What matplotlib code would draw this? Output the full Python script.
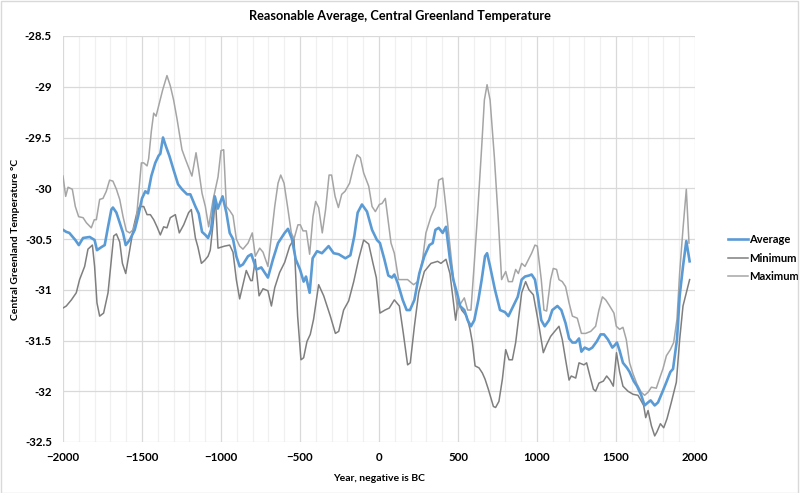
import matplotlib.pyplot as plt
import numpy as np
from matplotlib.ticker import MultipleLocator
from matplotlib.patches import Rectangle

title = 'Reasonable Average, Central Greenland Temperature'
xlabel = 'Year, negative is BC'
ylabel = 'Central Greenland Temperature °C'
font = 'Lato'

# values (year, deg C)
avg_year = [-2000, -1979, -1960, -1922, -1900, -1873, -1831, -1800, -1785, -1757, -1736, -1715, -1694, -1684,
            -1662, -1641, -1620, -1603, -1578, -1546, -1525, -1500, -1479, -1462, -1441, -1416, -1395, -1384,
            -1367, -1348, -1327, -1300, -1272, -1247, -1215, -1194, -1162, -1141, -1120, -1099, -1082, -1063,
            -1040, -1020, -990, -966, -945, -924, -903, -882, -861, -829, -808, -776, -745, -703, -671, -639,
            -597, -576, -551, -527, -500, -477, -462, -439, -420, -392, -361, -319, -287, -255, -213, -181,
            -156, -135, -108, -76, -44, -13, 6, 34, 59, 82, 97, 118, 150, 175, 196, 224, 255, 287, 319, 340,
            357, 378, 403, 424, 449, 470, 500, 513, 540, 561, 582, 603, 629, 650, 671, 684, 703, 734, 766,
            797, 819, 850, 878, 903, 924, 949, 966, 987, 1006, 1027, 1049, 1076, 1097, 1129, 1154, 1181,
            1203, 1224, 1245, 1266, 1281, 1302, 1329, 1350, 1378, 1403, 1424, 1449, 1477, 1490, 1506, 1523,
            1544, 1570, 1586, 1612, 1633, 1660, 1681, 1703, 1719, 1745, 1766, 1793, 1819, 1844, 1861, 1886,
            1903, 1924, 1945, 1966]
avg_temp = [-30.41, -30.43, -30.44, -30.51, -30.56, -30.49, -30.48, -30.51, -30.61, -30.58, -30.56, -30.38,
            -30.21, -30.19, -30.24, -30.34, -30.44, -30.56, -30.51, -30.41, -30.28, -30.1, -30.03, -30.05,
            -29.88, -29.75, -29.68, -29.66, -29.5, -29.59, -29.68, -29.82, -29.96, -30.01, -30.06, -30.06,
            -30.18, -30.25, -30.43, -30.46, -30.49, -30.41, -30.08, -30.2, -30.08, -30.24, -30.44, -30.5,
            -30.67, -30.77, -30.75, -30.67, -30.65, -30.8, -30.78, -30.88, -30.7, -30.54, -30.44, -30.4,
            -30.5, -30.7, -30.8, -30.92, -30.87, -31.03, -30.69, -30.62, -30.64, -30.57, -30.64, -30.65,
            -30.69, -30.66, -30.47, -30.24, -30.16, -30.23, -30.41, -30.51, -30.54, -30.7, -30.86, -30.88,
            -30.85, -30.93, -31.1, -31.2, -31.2, -31.1, -30.84, -30.67, -30.56, -30.54, -30.41, -30.39,
            -30.44, -30.38, -30.7, -30.9, -31.07, -31.16, -31.2, -31.3, -31.36, -31.3, -31.1, -30.9,
            -30.67, -30.64, -30.77, -31.0, -31.2, -31.22, -31.26, -31.16, -31.07, -30.9, -30.87, -30.86,
            -30.85, -30.9, -31.07, -31.3, -31.36, -31.3, -31.2, -31.16, -31.2, -31.33, -31.48, -31.52,
            -31.52, -31.48, -31.61, -31.57, -31.59, -31.57, -31.51, -31.44, -31.44, -31.49, -31.57, -31.55,
            -31.52, -31.6, -31.72, -31.77, -31.81, -31.9, -31.95, -32.04, -32.14, -32.11, -32.09, -32.14,
            -32.11, -32.01, -31.91, -31.81, -31.78, -31.49, -31.06, -30.77, -30.52, -30.72]

min_year = [-2000, -1979, -1947, -1916, -1895, -1863, -1842, -1814, -1800, -1785, -1768, -1743, -1715, -1694,
            -1679, -1662, -1641, -1624, -1603, -1578, -1553, -1532, -1515, -1489, -1468, -1447, -1426, -1405,
            -1384, -1363, -1342, -1321, -1289, -1264, -1236, -1205, -1188, -1162, -1146, -1124, -1103, -1082,
            -1068, -1046, -1036, -1019, -977, -945, -924, -903, -882, -840, -812, -802, -783, -759, -734,
            -703, -681, -660, -629, -597, -565, -538, -515, -502, -494, -477, -456, -435, -414, -382, -350,
            -308, -276, -255, -224, -192, -160, -129, -97, -65, -38, -17, 6, 38, 65, 97, 129, 154, 181, 198,
            224, 251, 287, 329, 371, 392, 424, 449, 485, 502, 523, 555, 576, 591, 608, 633, 654, 671, 692,
            724, 738, 759, 781, 802, 823, 844, 865, 882, 903, 928, 949, 977, 1013, 1040, 1061, 1086, 1112,
            1139, 1160, 1181, 1203, 1217, 1245, 1266, 1297, 1314, 1335, 1357, 1371, 1392, 1420, 1441, 1462,
            1483, 1503, 1523, 1544, 1576, 1608, 1639, 1654, 1675, 1688, 1703, 1724, 1745, 1759, 1781, 1802,
            1823, 1850, 1882, 1903, 1924, 1966]
min_temp = [-31.18, -31.16, -31.1, -31.03, -30.9, -30.77, -30.6, -30.56, -30.77, -31.13, -31.26, -31.23,
            -31.03, -30.7, -30.47, -30.45, -30.53, -30.74, -30.84, -30.61, -30.38, -30.24, -30.18, -30.18,
            -30.26, -30.26, -30.31, -30.38, -30.46, -30.38, -30.39, -30.29, -30.26, -30.44, -30.36, -30.24,
            -30.21, -30.49, -30.58, -30.74, -30.71, -30.67, -30.61, -30.29, -30.08, -30.59, -30.57, -30.56,
            -30.63, -30.9, -31.09, -30.81, -30.91, -30.91, -30.7, -31.06, -30.99, -31.01, -31.16, -30.98,
            -30.83, -30.73, -30.57, -30.5, -31.26, -31.52, -31.69, -31.67, -31.51, -31.44, -31.29, -30.95,
            -31.06, -31.26, -31.43, -31.41, -31.2, -31.11, -30.92, -30.7, -30.51, -30.55, -30.74, -30.88,
            -31.23, -31.2, -31.18, -31.1, -31.16, -31.43, -31.74, -31.72, -31.36, -31.03, -30.82, -30.74,
            -30.72, -30.74, -30.7, -30.84, -31.3, -31.1, -31.2, -31.26, -31.39, -31.52, -31.75, -31.77,
            -31.82, -31.88, -31.98, -32.15, -32.16, -32.1, -31.88, -31.59, -31.69, -31.69, -31.52, -31.3,
            -31.03, -30.92, -31.0, -31.05, -31.36, -31.62, -31.54, -31.46, -31.41, -31.36, -31.49, -31.69,
            -31.89, -31.85, -31.87, -31.72, -31.74, -31.72, -31.85, -31.98, -32.0, -31.92, -31.9, -31.85,
            -31.89, -31.95, -31.62, -31.81, -31.95, -32.0, -32.03, -32.04, -32.08, -32.14, -32.26, -32.19,
            -32.34, -32.44, -32.4, -32.32, -32.36, -32.27, -32.11, -31.91, -31.49, -31.16, -30.9]

max_year = [-2000, -1983, -1968, -1941, -1922, -1901, -1873, -1852, -1821, -1802, -1789, -1768, -1747, -1726,
            -1705, -1684, -1662, -1641, -1620, -1599, -1578, -1557, -1536, -1504, -1489, -1468, -1458, -1441,
            -1426, -1411, -1395, -1369, -1342, -1321, -1300, -1278, -1247, -1226, -1184, -1158, -1141, -1120,
            -1099, -1078, -1051, -1019, -1000, -983, -966, -945, -924, -903, -882, -861, -829, -802, -783,
            -755, -734, -703, -681, -660, -639, -622, -601, -576, -555, -538, -513, -498, -481, -460, -439,
            -418, -401, -382, -359, -338, -316, -300, -278, -257, -236, -215, -186, -160, -139, -118, -97,
            -65, -44, -23, 2, 19, 40, 76, 97, 124, 150, 181, 203, 219, 245, 276, 297, 329, 357, 378, 403,
            428, 456, 477, 498, 519, 540, 561, 582, 603, 624, 650, 667, 684, 703, 730, 755, 776, 802, 819,
            844, 865, 882, 903, 924, 966, 987, 1002, 1027, 1044, 1061, 1086, 1103, 1124, 1139, 1160, 1181,
            1203, 1224, 1255, 1281, 1308, 1340, 1371, 1392, 1414, 1435, 1456, 1487, 1502, 1523, 1544, 1565,
            1586, 1608, 1633, 1660, 1681, 1703, 1724, 1755, 1781, 1797, 1819, 1844, 1865, 1886, 1903, 1924,
            1945, 1962]
max_temp = [-29.88, -30.08, -29.99, -30.01, -30.18, -30.28, -30.29, -30.34, -30.39, -30.31, -30.31, -30.11,
            -30.1, -30.03, -29.92, -29.93, -30.01, -30.11, -30.28, -30.42, -30.44, -30.41, -30.31, -29.75,
            -29.75, -29.78, -29.71, -29.44, -29.26, -29.29, -29.19, -29.03, -28.89, -28.99, -29.13, -29.32,
            -29.62, -29.71, -29.88, -29.65, -29.82, -30.05, -30.18, -30.38, -30.12, -29.89, -29.63, -29.62,
            -30.18, -30.22, -30.27, -30.5, -30.57, -30.6, -30.54, -30.44, -30.67, -30.59, -30.63, -30.77,
            -30.47, -30.18, -29.95, -29.87, -29.95, -30.21, -30.44, -30.5, -30.36, -30.36, -30.42, -30.42,
            -30.65, -30.28, -30.13, -30.19, -30.44, -30.21, -29.87, -29.87, -30.08, -30.19, -30.06, -30.03,
            -29.95, -29.78, -29.67, -29.7, -29.85, -29.98, -30.18, -30.23, -30.16, -30.15, -30.1, -30.54,
            -30.64, -30.9, -30.9, -30.9, -30.93, -30.95, -30.92, -30.7, -30.44, -30.28, -30.18, -29.92,
            -29.9, -30.25, -30.67, -30.97, -31.2, -31.13, -31.08, -31.2, -31.2, -30.74, -30.25, -29.59,
            -29.13, -28.98, -29.13, -29.69, -30.31, -30.9, -30.82, -30.92, -30.92, -30.8, -30.84, -30.74,
            -30.77, -30.64, -30.56, -30.57, -30.9, -31.2, -31.21, -30.9, -30.79, -30.8, -30.9, -30.92,
            -30.97, -31.13, -31.26, -31.28, -31.43, -31.43, -31.41, -31.36, -31.2, -31.07, -31.1, -31.15,
            -31.23, -31.36, -31.39, -31.37, -31.49, -31.72, -31.83, -31.93, -32.01, -32.04, -32.01, -31.96,
            -31.97, -31.85, -31.78, -31.65, -31.59, -31.52, -31.29, -30.83, -30.4, -30.01, -30.54]

fig = plt.figure(figsize=(8, 4.93), dpi=100)
ax = fig.add_axes([63 / 800, 1 - 442 / 493, 632 / 800, 406 / 493])

ax.plot(avg_year, avg_temp, color='#5B9BD5', lw=1.9, label='Average', zorder=4)
ax.plot(min_year, min_temp, color='#7F7F7F', lw=1.1, label='Minimum', zorder=3)
ax.plot(max_year, max_temp, color='#A5A5A5', lw=1.1, label='Maximum', zorder=3)

ax.set_xlim(-2000, 2000)
ax.set_ylim(-32.5, -28.5)
ax.xaxis.set_major_locator(MultipleLocator(500))
ax.xaxis.set_minor_locator(MultipleLocator(100))
ax.yaxis.set_major_locator(MultipleLocator(0.5))
ax.yaxis.set_major_formatter(plt.FuncFormatter(lambda v, p: '%g' % v))
ax.grid(which='major', color='#D9D9D9', lw=0.9, zorder=0)
ax.grid(which='minor', axis='x', color='#F0F0F0', lw=0.9, zorder=0)
ax.set_axisbelow(True)
for s in ax.spines.values():
    s.set_visible(False)
ax.tick_params(which='both', length=0)
ax.tick_params(axis='y', pad=8)
ax.tick_params(axis='x', pad=7)
for lab in ax.get_xticklabels() + ax.get_yticklabels():
    lab.set_fontweight('bold')
    lab.set_fontsize(8.3)
    lab.set_fontfamily(font)

ax.set_xlabel(xlabel, fontsize=7.5, fontweight='bold', family=font, labelpad=8)
ax.set_ylabel(ylabel, fontsize=7.5, fontweight='bold', family=font)
ax.yaxis.set_label_coords(-0.068, 0.5)
fig.text(0.5, 1 - 16 / 493, title, ha='center', va='center', fontsize=9.2, fontweight='bold', family=font)

leg = ax.legend(loc='center left', bbox_to_anchor=(1.043, 0.453), frameon=False, borderpad=0,
                prop={'family': font, 'weight': 'bold', 'size': 8},
                handlelength=1.8, handletextpad=0.15, labelspacing=0.7)

fig.patches.append(Rectangle((0.001, 0.001), 0.997, 0.997, transform=fig.transFigure,
                             fill=False, ec='#D9D9D9', lw=1))

fig.savefig('out.png', dpi=100)
